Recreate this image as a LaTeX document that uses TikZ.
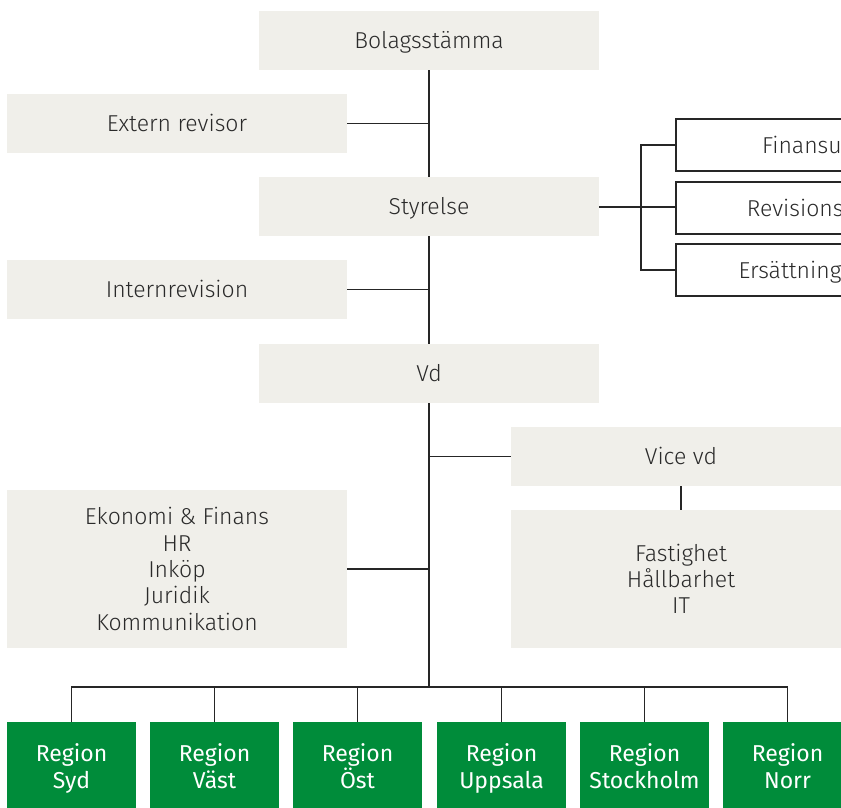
\documentclass[tikz,border=0pt]{standalone}
\usepackage{fontspec}
\setmainfont{Fira Sans}[UprightFont={* Light},BoldFont={*}]
\definecolor{boxgrey}{HTML}{F0EFEA}
\definecolor{txtgrey}{HTML}{2A2A2A}
\definecolor{regiongreen}{HTML}{008C3A}
\begin{document}
\begin{tikzpicture}[x=1pt,y=-1pt,
  gbox/.style={fill=boxgrey, draw=none, text=txtgrey, font=\fontsize{23}{26.3}\selectfont, align=center, inner sep=0pt},
  one/.style={text height=16pt, text depth=0pt},
  obox/.style={fill=white, draw=black!85, line width=1.1pt, text=txtgrey, font=\fontsize{23}{26}\selectfont, minimum width=330pt, minimum height=52pt, inner sep=0pt, text height=16pt, text depth=0pt},
  rbox/.style={fill=regiongreen, draw=none, text=white, font=\bfseries\fontsize{23}{27}\selectfont, align=center, minimum width=129pt, minimum height=96pt, inner sep=0pt, text height=45.9pt, text depth=8.1pt},
  conn/.style={draw=black!85, line width=1.1pt}]
\useasboundingbox (0,0) rectangle (841,807);
\clip (0,0) rectangle (841,807);
% grey boxes
\node[gbox, one, minimum width=340pt, minimum height=59pt] (bol) at (429,40.5) {Bolagsstämma};
\node[gbox, one, minimum width=340pt, minimum height=59pt] (ext) at (177,123.5) {Extern revisor};
\node[gbox, one, minimum width=340pt, minimum height=59pt] (sty) at (429,206.5) {Styrelse};
\node[gbox, one, minimum width=340pt, minimum height=59pt] (int) at (177,289.5) {Internrevision};
\node[gbox, one, minimum width=340pt, minimum height=59pt] (vd) at (429,373.5) {Vd};
\node[gbox, one, minimum width=340pt, minimum height=59pt] (vvd) at (681,456.5) {Vice vd};
\node[gbox, minimum width=340pt, minimum height=138pt] (fas) at (681,579) {Fastighet\\Hållbarhet\\IT};
\node[gbox, minimum width=340pt, minimum height=158pt] (eko) at (177,569) {Ekonomi \& Finans\\HR\\Inköp\\Juridik\\Kommunikation};
% committees
\node[obox] (fin) at (841,145) {Finansutskottet};
\node[obox] (rev) at (841,208) {Revisionsutskottet};
\node[obox] (ers) at (841,270) {Ersättningsutskottet};
% regions
\node[rbox] (r1) at (71.5,770) {Region\\Syd};
\node[rbox] (r2) at (214.5,770) {Region\\Väst};
\node[rbox] (r3) at (357.5,770) {Region\\Öst};
\node[rbox] (r4) at (501.5,770) {Region\\Uppsala};
\node[rbox] (r5) at (644.5,770) {Region\\Stockholm};
\node[rbox] (r6) at (787.5,770) {Region\\Norr};
% connectors
\coordinate (bus) at (429,687);
\coordinate (br) at (641,207);
\draw[conn] (bol.south) -- (sty.north);
\draw[conn] (sty.south) -- (vd.north);
\draw[conn] (vd.south) -- (bus);
\draw[conn] (ext.east) -- (ext.east -| bol.south);
\draw[conn] (int.east) -- (int.east -| bol.south);
\draw[conn] (eko.east) -- (eko.east -| bol.south);
\draw[conn] (vvd.west) -- (vvd.west -| bol.south);
\draw[conn] (vvd.south) -- (fas.north);
\draw[conn] (sty.east |- br) -- (rev.west |- br);
\draw[conn] (fin.west) -| (br) |- (ers.west);
\draw[conn] (r1.north) |- (bus) -| (r6.north);
\foreach \r in {r2,r3,r4,r5} \draw[conn] (\r.north) -- (\r.north |- bus);
\end{tikzpicture}
\end{document}
